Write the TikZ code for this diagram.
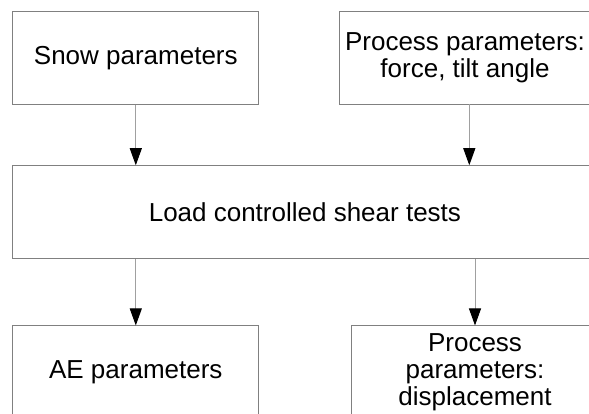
\documentclass[tikz,border=0pt]{standalone}
\usepackage{fontspec}
\setmainfont{Liberation Sans}
\usetikzlibrary{arrows.meta}
\definecolor{boxline}{RGB}{128,128,128}
\definecolor{linkline}{RGB}{160,160,160}
\begin{document}
\begin{tikzpicture}[x=1pt,y=1pt,
  stage/.style={draw=boxline,line width=1pt,fill=white,inner sep=0pt,
    align=center,font=\fontsize{26}{27}\selectfont,
    minimum width=246pt,minimum height=92.5pt},
  wide/.style={stage,minimum width=584pt},
  link/.style={draw=linkline,line width=1pt,
    -{Triangle[width=12pt,length=17pt,color=black]}}]
  \useasboundingbox (0,0) rectangle (589,-414);
  \clip (0,0) rectangle (589,-414);
  \fill[white] (0,0) rectangle (589,-414);

  % inputs
  \node[stage] (snow) at (135.8,-57.9) {Snow parameters};
  \node[stage,minimum width=251pt] (procin) at (465,-57.9)
    {Process parameters:\\force, tilt angle};

  % test stage
  \node[wide] (load) at (304.9,-212) {Load controlled shear tests};

  % outputs
  \node[stage] (ae) at (135.8,-372.2) {AE parameters};
  \node[stage,minimum width=248pt] (procout) at (475,-372.2)
    {Process\\parameters:\\displacement};

  % connections
  \draw[link] (snow.south) -- (snow.south |- load.north);
  \draw[link] (469.3,-104.2) coordinate (pa) -- (pa |- load.north);
  \draw[link] (ae.north |- load.south) -- (ae.north);
  \draw[link] (procout.north |- load.south) -- (procout.north);
\end{tikzpicture}
\end{document}
